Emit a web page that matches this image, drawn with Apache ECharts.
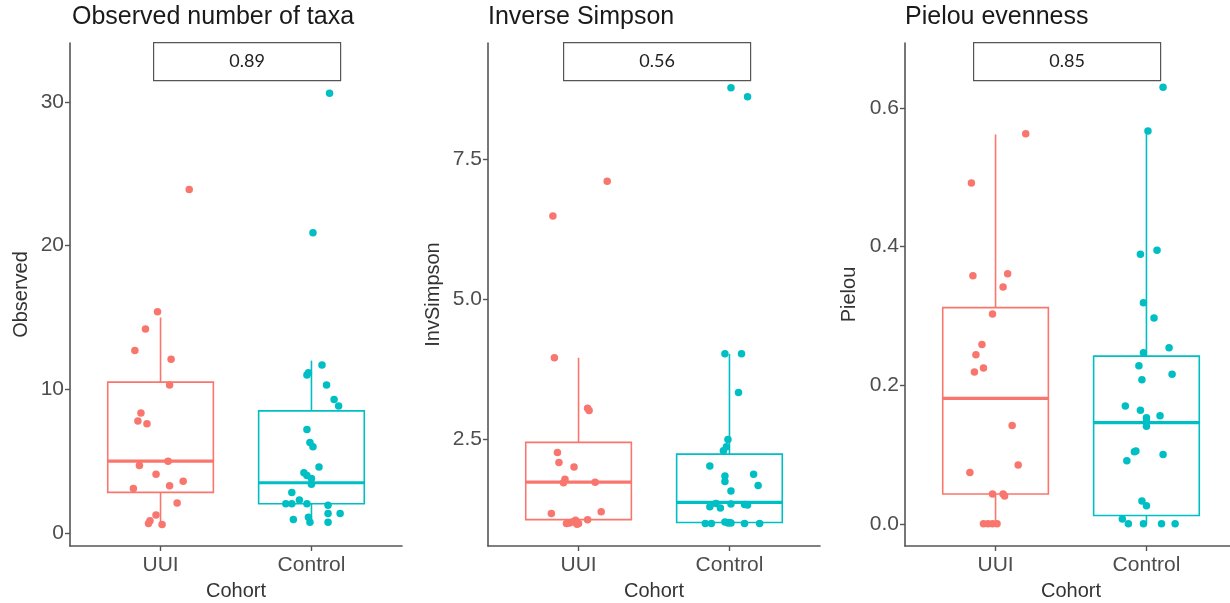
<!DOCTYPE html>
<html>
<head>
<meta charset="utf-8">
<title>Alpha diversity by cohort</title>
<script src="https://cdn.jsdelivr.net/npm/echarts@6/dist/echarts.min.js"></script>
<style>
  html, body { margin: 0; padding: 0; background: #ffffff; }
  #chart { width: 1230px; height: 603px; }
</style>
</head>
<body>
<div id="chart"></div>
<script>
// ---------- data ----------
const cohorts = ['UUI', 'Control'];
const panelTitles = ['Observed number of taxa', 'Inverse Simpson', 'Pielou evenness'];
const yAxisNames = ['Observed', 'InvSimpson', 'Pielou'];
const pValues = ['0.89', '0.56', '0.85'];

const observedTicks = [0, 10, 20, 30];
const invSimpsonTicks = [2.5, 5.0, 7.5];
const pielouTicks = [0.0, 0.2, 0.4, 0.6];

// box statistics: [lower whisker, Q1, median, Q3, upper whisker]
const observedBoxUUI = [0.6, 2.83, 5.0, 10.5, 15.0];
const observedBoxControl = [0.75, 2.04, 3.5, 8.5, 12.0];
const invSimpsonBoxUUI = [0.98, 1.06, 1.73, 2.44, 3.95];
const invSimpsonBoxControl = [0.99, 1.01, 1.37, 2.23, 4.02];
const pielouBoxUUI = [0.0, 0.043, 0.181, 0.312, 0.562];
const pielouBoxControl = [0.0, 0.012, 0.146, 0.242, 0.567];

// per-sample values and horizontal jitter (in category units)
const observedUUI = [23.9, 15.4, 14.2, 12.7, 12.1, 10.3, 8.35, 7.8, 7.6, 5.0, 4.7, 4.1, 3.6, 3.3, 3.1, 2.1, 1.25, 0.86, 0.67, 0.6];
const observedUUIJitter = [0.19, -0.02, -0.10, -0.17, 0.07, 0.06, -0.13, -0.15, -0.09, 0.05, -0.14, -0.03, 0.15, 0.06, -0.18, 0.11, -0.03, -0.07, -0.08, 0.01];
const observedControl = [30.6, 20.9, 11.7, 11.15, 11.0, 10.3, 9.3, 8.84, 7.2, 6.3, 6.0, 4.6, 4.2, 4.0, 3.8, 3.4, 2.83, 2.3, 2.04, 2.04, 2.04, 1.93, 1.37, 1.37, 1.1, 0.95, 0.75, 0.75];
const observedControlJitter = [0.12, 0.01, 0.07, -0.02, -0.03, 0.10, 0.15, 0.18, -0.03, -0.01, 0.01, 0.05, -0.05, -0.03, 0.0, 0.0, -0.13, -0.08, -0.17, -0.13, -0.03, 0.11, 0.11, 0.19, -0.02, -0.12, -0.01, 0.11];

const invSimpsonUUI = [7.10, 6.48, 3.95, 3.05, 3.01, 2.26, 2.08, 2.00, 1.78, 1.72, 1.73, 1.20, 1.17, 1.06, 1.05, 1.02, 1.00, 0.99, 0.99, 0.98];
const invSimpsonUUIJitter = [0.19, -0.17, -0.16, 0.06, 0.07, -0.14, -0.13, -0.03, -0.09, -0.10, 0.11, 0.15, -0.18, 0.06, -0.02, -0.04, -0.06, -0.08, 0.00, -0.01];
const invSimpsonControl = [8.77, 8.61, 4.02, 4.02, 3.33, 2.49, 2.36, 2.29, 2.02, 1.87, 1.84, 1.74, 1.67, 1.57, 1.35, 1.34, 1.33, 1.32, 1.29, 1.27, 1.02, 1.01, 1.0, 1.0, 0.99, 0.99, 0.99, 0.99];
const invSimpsonControlJitter = [0.01, 0.12, -0.03, 0.08, 0.06, -0.01, -0.02, -0.04, -0.13, 0.16, -0.03, -0.03, 0.19, 0.01, -0.09, 0.01, 0.10, 0.12, -0.13, -0.06, -0.03, 0.00, -0.01, 0.01, -0.16, -0.12, 0.10, 0.20];

const pielouUUI = [0.563, 0.492, 0.361, 0.358, 0.342, 0.303, 0.259, 0.244, 0.225, 0.219, 0.142, 0.085, 0.074, 0.043, 0.043, 0.040, 0.0, 0.0, 0.0, 0.0];
const pielouUUIJitter = [0.20, -0.16, 0.08, -0.15, 0.05, -0.02, -0.09, -0.13, -0.08, -0.14, 0.11, 0.15, -0.17, -0.02, 0.05, 0.06, -0.08, -0.05, -0.02, 0.01];
const pielouControl = [0.630, 0.567, 0.395, 0.389, 0.319, 0.297, 0.254, 0.247, 0.228, 0.216, 0.208, 0.170, 0.164, 0.156, 0.153, 0.147, 0.141, 0.105, 0.104, 0.100, 0.091, 0.033, 0.026, 0.007, 0.0, 0.0, 0.0, 0.0];
const pielouControlJitter = [0.11, 0.01, 0.07, -0.04, -0.02, 0.05, 0.15, -0.02, -0.05, 0.17, -0.03, -0.14, -0.04, 0.09, 0.0, 0.0, 0.0, -0.07, -0.08, 0.11, -0.13, -0.03, 0.0, -0.16, -0.12, -0.02, 0.10, 0.19];

// ---------- styling / layout ----------
const COLORS = ['#F8766D', '#00BFC4'];
const AXIS_COLOR = '#555555';
const FONT = '"Liberation Sans", Arial, Helvetica, sans-serif';
const GRID_LEFT = [70, 488, 905];
const GRID_TOP = 43;
const GRID_W = 332;
const GRID_H = 503;
const PANEL_W = 410;
const BOX_WIDTH = 0.7; // in category units

const panels = [
  {
    yMin: -0.9, yMax: 34.1, ticks: observedTicks, decimals: 0, nameGap: 39,
    boxes: [observedBoxUUI, observedBoxControl],
    points: [[observedUUI, observedUUIJitter], [observedControl, observedControlJitter]]
  },
  {
    yMin: 0.59, yMax: 9.57, ticks: invSimpsonTicks, decimals: 1, nameGap: 45,
    boxes: [invSimpsonBoxUUI, invSimpsonBoxControl],
    points: [[invSimpsonUUI, invSimpsonUUIJitter], [invSimpsonControl, invSimpsonControlJitter]]
  },
  {
    yMin: -0.032, yMax: 0.694, ticks: pielouTicks, decimals: 1, nameGap: 46,
    boxes: [pielouBoxUUI, pielouBoxControl],
    points: [[pielouUUI, pielouUUIJitter], [pielouControl, pielouControlJitter]]
  }
];

function renderBox(params, api) {
  const x = api.value(0);
  const color = COLORS[params.dataIndex];
  const lo = api.coord([x, api.value(1)]);
  const q1 = api.coord([x, api.value(2)]);
  const md = api.coord([x, api.value(3)]);
  const q3 = api.coord([x, api.value(4)]);
  const hi = api.coord([x, api.value(5)]);
  const half = api.size([BOX_WIDTH, 0])[0] / 2;
  const cx = md[0];
  const thin = { stroke: color, lineWidth: 1.6, fill: null };
  return {
    type: 'group',
    children: [
      { type: 'line', shape: { x1: cx, y1: q3[1], x2: cx, y2: hi[1] }, style: thin },
      { type: 'line', shape: { x1: cx, y1: q1[1], x2: cx, y2: lo[1] }, style: thin },
      { type: 'rect', shape: { x: cx - half, y: q3[1], width: half * 2, height: q1[1] - q3[1] },
        style: { stroke: color, lineWidth: 1.6, fill: '#ffffff' } },
      { type: 'line', shape: { x1: cx - half, y1: md[1], x2: cx + half, y2: md[1] },
        style: { stroke: color, lineWidth: 3.2 } }
    ]
  };
}

const grid = [], xAxis = [], yAxis = [], series = [], title = [], graphic = [];

panels.forEach((p, i) => {
  grid.push({
    left: GRID_LEFT[i], top: GRID_TOP, width: GRID_W, height: GRID_H,
    containLabel: false, outerBoundsMode: 'none'
  });

  title.push({
    text: panelTitles[i], left: GRID_LEFT[i] + (i === 0 ? 2 : 0), top: 5, padding: 0,
    textStyle: { fontFamily: FONT, fontSize: 25, fontWeight: 'normal', color: '#1a1a1a' }
  });

  xAxis.push({
    type: 'value', gridIndex: i, min: 0.4, max: 2.6,
    name: 'Cohort', nameLocation: 'middle', nameGap: 35,
    nameTextStyle: { fontFamily: FONT, fontSize: 20, color: '#333333' },
    splitLine: { show: false },
    axisLine: { show: true, onZero: false, lineStyle: { color: AXIS_COLOR, width: 1.6 } },
    axisTick: { show: true, customValues: [1, 2], length: 5, lineStyle: { color: AXIS_COLOR, width: 1.4 } },
    axisLabel: {
      show: true, customValues: [1, 2], margin: 9,
      fontFamily: FONT, fontSize: 21, color: '#4d4d4d',
      formatter: v => cohorts[Math.round(v) - 1]
    }
  });

  yAxis.push({
    type: 'value', gridIndex: i, min: p.yMin, max: p.yMax,
    name: yAxisNames[i], nameLocation: 'middle', nameGap: p.nameGap, nameRotate: 90,
    nameTextStyle: { fontFamily: FONT, fontSize: 20, color: '#333333' },
    splitLine: { show: false },
    axisLine: { show: true, onZero: false, lineStyle: { color: AXIS_COLOR, width: 1.6 } },
    axisTick: { show: true, customValues: p.ticks, length: 5, lineStyle: { color: AXIS_COLOR, width: 1.4 } },
    axisLabel: {
      show: true, customValues: p.ticks, margin: 6,
      fontFamily: FONT, fontSize: 21, color: '#4d4d4d',
      formatter: v => Number(v).toFixed(p.decimals)
    }
  });

  series.push({
    type: 'custom', xAxisIndex: i, yAxisIndex: i, z: 2,
    renderItem: renderBox,
    encode: { x: 0, y: [1, 2, 3, 4, 5] },
    data: p.boxes.map((b, g) => [g + 1].concat(b)),
    silent: true
  });

  p.points.forEach(([vals, jit], g) => {
    series.push({
      type: 'scatter', xAxisIndex: i, yAxisIndex: i, z: 3,
      symbolSize: 7.5,
      itemStyle: { color: COLORS[g], opacity: 1 },
      data: vals.map((v, k) => [g + 1 + jit[k], v]),
      silent: true
    });
  });

  // Wilcoxon p-value label
  const bx = i * PANEL_W + 153;
  graphic.push({
    type: 'group', left: bx, top: 42,
    children: [
      { type: 'rect', shape: { x: 0, y: 0, width: 187, height: 38 },
        style: { fill: '#ffffff', stroke: AXIS_COLOR, lineWidth: 1.2 } },
      { type: 'text', x: 93.5, y: 19,
        style: { text: pValues[i], font: '18px Lato, "Open Sans", sans-serif', fill: '#222222',
                 textAlign: 'center', textVerticalAlign: 'middle' } }
    ]
  });
});

const chart = echarts.init(document.getElementById('chart'), null, { renderer: 'canvas' });
chart.setOption({
  animation: false,
  backgroundColor: '#ffffff',
  title, grid, xAxis, yAxis, series, graphic
});
</script>
</body>
</html>
